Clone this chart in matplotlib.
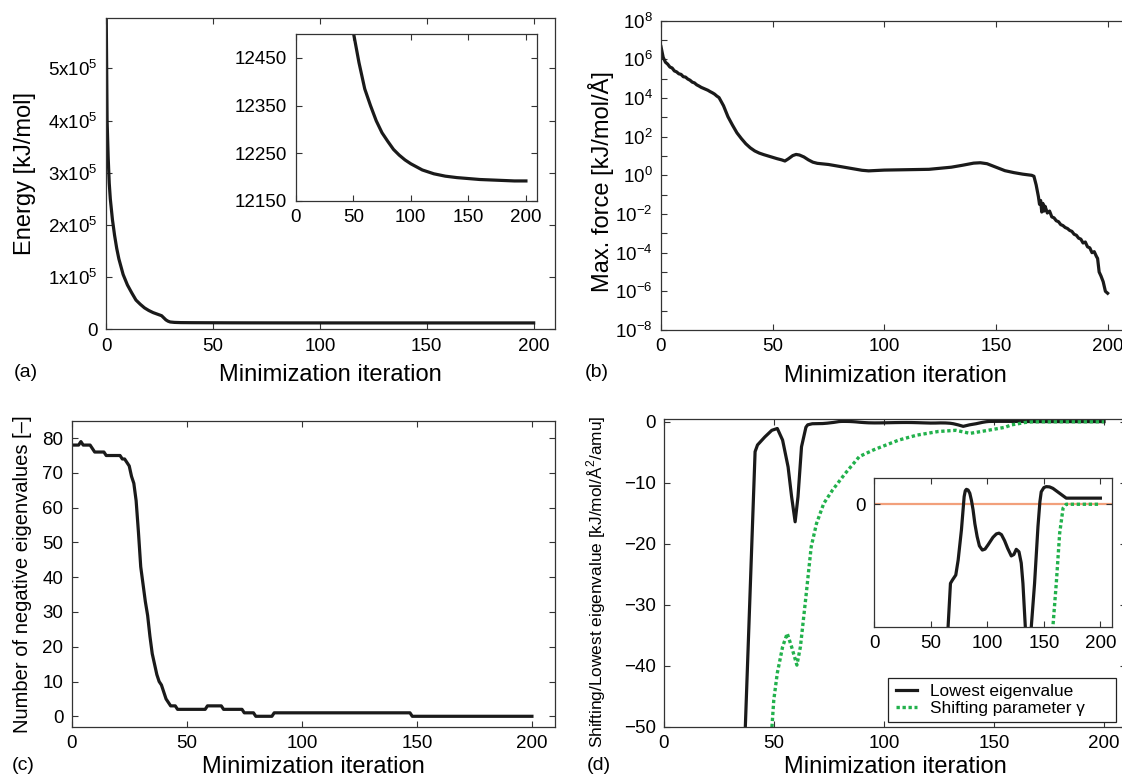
import numpy as np
import matplotlib
matplotlib.use('Agg')
import matplotlib.pyplot as plt
from matplotlib.patches import Rectangle
from matplotlib.ticker import FuncFormatter, LogLocator, NullFormatter

plt.rcParams['font.family'] = ['Liberation Sans', 'DejaVu Sans']
plt.rcParams['mathtext.fontset'] = 'custom'
plt.rcParams['mathtext.rm'] = 'Liberation Sans'
plt.rcParams['axes.unicode_minus'] = True

# (a) energy per iteration
energy_iter = [0, 0.5, 1, 1.5, 2, 3, 4, 5, 6, 7, 8, 10, 12, 14, 16, 18, 20, 22, 24, 25,
               26, 27, 28, 29, 30, 32, 35, 40, 45, 50, 55, 60, 65, 70, 75, 80, 85, 90,
               95, 100, 110, 120, 130, 140, 150, 160, 170, 180, 190, 200]
energy = [6.5e5, 4.0e5, 3.3e5, 2.8e5, 2.5e5, 2.1e5, 1.8e5, 1.55e5, 1.35e5, 1.2e5, 1.05e5,
          8.5e4, 7.0e4, 5.6e4, 4.8e4, 4.1e4, 3.6e4, 3.2e4, 2.9e4, 2.75e4,
          2.6e4, 2.2e4, 1.8e4, 1.55e4, 1.4e4, 1.32e4, 1.28e4, 1.265e4, 1.257e4,
          12505, 12440, 12385, 12350, 12318, 12293, 12275, 12258, 12246, 12236, 12228,
          12215, 12207, 12202, 12199, 12197, 12195, 12194, 12193, 12192, 12192]

# (b) max force, log10 values
force_iter = [0, 1, 2, 3, 4, 5, 6, 7, 8, 9, 10, 11, 12, 13, 14, 15, 16, 17, 18, 19, 20,
              21, 22, 23, 24, 25, 26, 28, 30, 32, 34, 36, 38, 40, 42, 44, 46, 48, 50, 52,
              54, 55.5, 57, 59, 60.5, 62, 64, 66, 68, 70, 75, 80, 85, 90, 93, 100, 110,
              120, 130, 135, 140, 143, 146, 150, 154, 158, 162, 166, 167, 168, 169, 169.5,
              170, 170.5, 171, 171.5, 172, 173, 174, 175, 176, 177, 178, 179, 180, 181,
              182, 183, 184, 185, 186, 187, 188, 189, 190, 191, 192, 193, 194, 195, 195.5,
              196.2, 197, 198, 199, 200]
force_log = [6.66, 6.1, 5.85, 5.75, 5.6, 5.55, 5.4, 5.35, 5.25, 5.22, 5.1, 5.08, 4.98,
             4.92, 4.82, 4.78, 4.68, 4.62, 4.55, 4.5, 4.45, 4.4, 4.33, 4.27, 4.2, 4.1,
             4.02, 3.6, 3.03, 2.6, 2.2, 1.9, 1.63, 1.42, 1.26, 1.15, 1.07, 1.0, 0.93,
             0.86, 0.8, 0.74, 0.85, 1.02, 1.08, 1.05, 0.95, 0.8, 0.68, 0.62, 0.56, 0.46,
             0.36, 0.26, 0.23, 0.27, 0.29, 0.31, 0.42, 0.52, 0.63, 0.65, 0.6, 0.42, 0.24,
             0.14, 0.06, 0.0, -0.05, -0.5, -1.1, -1.5, -1.3, -1.9, -1.45, -1.85, -1.6,
             -1.95, -1.85, -2.15, -2.2, -2.35, -2.4, -2.55, -2.6, -2.7, -2.75, -2.85,
             -2.9, -3.05, -3.1, -3.25, -3.3, -3.5, -3.45, -3.7, -3.75, -4.0, -3.95, -4.2,
             -4.3, -5.0, -5.2, -5.5, -6.0, -6.1]

# (c) number of negative eigenvalues
neg_iter = [0, 2, 3, 4, 5, 8, 9, 10, 14, 15, 21, 22, 23, 24, 25, 26, 27, 28, 29, 30, 31,
            32, 33, 34, 35, 36, 37, 38, 39, 40, 41, 42, 43, 45, 46, 58, 59, 65, 66, 74,
            75, 79, 80, 87, 88, 147, 148, 200]
neg_count = [78, 78, 78, 79, 78, 78, 77, 76, 76, 75, 75, 74, 74, 73, 72, 69, 67, 62, 53,
             43, 38, 33, 29, 23, 18, 15, 12, 10, 9, 7, 5, 4, 3, 3, 2, 2, 3, 3, 2, 2, 1,
             1, 0, 0, 1, 1, 0, 0]

# (d) lowest eigenvalue and shifting parameter
eig_iter = [35, 41.4, 42.5, 45.8, 49, 51.5, 53.9, 56.4, 58, 59.6, 60.9, 62.5, 64.5, 65.3,
            67.4, 69.2, 72.1, 74.2, 77.1, 79.5, 80.5, 81.5, 83, 84.5, 86, 87.4, 89, 91,
            93, 95.6, 98, 100.6, 105, 108, 110.3, 112.5, 115.3, 118, 121.2, 123.5, 125.6,
            128, 130, 131.5, 133.6, 136, 138.9, 141.8, 144.8, 146.5, 147.7, 150, 152.1,
            155, 158, 163.9, 169.8, 200]
eig_val = [-70, -4.9, -3.8, -2.5, -1.4, -1.1, -3.0, -7.4, -12.3, -16.4, -12.3, -4.1,
           -0.9, -0.5, -0.323, -0.309, -0.289, -0.228, -0.105, 0.031, 0.055, 0.061, 0.058,
           0.045, 0.015, -0.023, -0.08, -0.132, -0.17, -0.187, -0.183, -0.166, -0.135,
           -0.121, -0.118, -0.124, -0.149, -0.18, -0.211, -0.205, -0.184, -0.194, -0.24,
           -0.323, -0.5, -0.75, -0.5, -0.323, -0.091, 0.01, 0.051, 0.068, 0.072, 0.071,
           0.065, 0.045, 0.025, 0.025]
gam_iter = [48.5, 49.9, 51.5, 53.9, 56, 58, 60.4, 62, 64.5, 66.9, 69.3, 72.6, 76.6, 82.3,
            88.8, 95.3, 106.7, 114.8, 124.5, 132.6, 139.1, 147.3, 155, 158, 161, 164, 167,
            169.8, 200]
gam_val = [-53, -45.6, -41.2, -36.9, -34.7, -36.9, -39.9, -36.9, -28.7, -20.5, -16.7,
           -13.4, -11.2, -8.5, -5.7, -4.6, -3.0, -2.2, -1.6, -1.4, -1.9, -1.4, -0.9, -0.5,
           -0.323, -0.118, -0.016, 0.0, 0.0]

LC = '#1a1a1a'
GREEN = '#22b14c'
LW = 2.3
TICKFS = 13.5


def style(ax):
    ax.tick_params(which='both', direction='in', top=True, right=True, length=4,
                   width=0.8, labelsize=TICKFS, pad=6, color='#333333')
    for s in ax.spines.values():
        s.set_linewidth(0.9)
        s.set_color('#333333')


fig = plt.figure(figsize=(11.22, 7.79), dpi=100)

# (a)
ax = fig.add_axes([0.0945, 0.5773, 0.4002, 0.3992])
ax.plot(energy_iter, energy, color=LC, lw=LW)
ax.set_xlim(0, 210)
ax.set_ylim(0, 5.96e5)
ax.set_xticks([0, 50, 100, 150, 200])
ax.set_yticks([0, 1e5, 2e5, 3e5, 4e5, 5e5])
ax.yaxis.set_major_formatter(FuncFormatter(
    lambda v, p: '0' if v == 0 else r'$\mathregular{%dx10^{5}}$' % round(v / 1e5)))
style(ax)
ax.set_ylabel('Energy [kJ/mol]', fontsize=17)
ax.yaxis.set_label_coords(-0.157, 0.5)
ax.set_xlabel('Minimization iteration', fontsize=17)
ax.xaxis.set_label_coords(0.5, -0.112)

axi = fig.add_axes([0.2635, 0.7420, 0.2155, 0.2144])
axi.plot(energy_iter, energy, color=LC, lw=LW)
axi.set_xlim(0, 210)
axi.set_ylim(12150, 12500)
axi.set_xticks([0, 50, 100, 150, 200])
axi.set_yticks([12150, 12250, 12350, 12450])
style(axi)

# (b)
ax = fig.add_axes([0.5891, 0.5764, 0.4180, 0.3971])
ax.plot(force_iter, 10.0 ** np.array(force_log), color=LC, lw=LW)
ax.set_yscale('log')
ax.set_xlim(0, 210)
ax.set_ylim(1e-8, 1e8)
ax.set_xticks([0, 50, 100, 150, 200])
ax.yaxis.set_major_locator(LogLocator(base=100, numticks=30))
ax.yaxis.set_minor_locator(LogLocator(base=100, subs=(10,), numticks=30))
ax.yaxis.set_minor_formatter(NullFormatter())
ax.yaxis.set_major_formatter(FuncFormatter(
    lambda v, p: r'$\mathregular{10^{%d}}$' % round(np.log10(v))))
style(ax)
ax.set_ylabel('Max. force [kJ/mol/Å]', fontsize=17)
ax.yaxis.set_label_coords(-0.101, 0.48)
ax.set_xlabel('Minimization iteration', fontsize=17)
ax.xaxis.set_label_coords(0.5, -0.112)

# (c)
ax = fig.add_axes([0.0639, 0.0671, 0.4307, 0.3928])
ax.plot(neg_iter, neg_count, color=LC, lw=LW)
ax.set_xlim(0, 210)
ax.set_ylim(-3, 85)
ax.set_xticks([0, 50, 100, 150, 200])
ax.set_yticks(range(0, 81, 10))
style(ax)
ax.set_ylabel('Number of negative eigenvalues [–]', fontsize=14.5)
ax.yaxis.set_label_coords(-0.082, 0.5)
ax.set_xlabel('Minimization iteration', fontsize=17)
ax.xaxis.set_label_coords(0.5, -0.097)

# (d)
ax = fig.add_axes([0.5918, 0.0671, 0.4118, 0.3946])
ax.plot(eig_iter, eig_val, color=LC, lw=LW, label='Lowest eigenvalue')
ax.plot(gam_iter, gam_val, color=GREEN, lw=2.4, dashes=(1, 0.8),
        label='Shifting parameter γ')
ax.set_xlim(0, 210)
ax.set_ylim(-50, 0.4)
ax.set_xticks([0, 50, 100, 150, 200])
ax.set_yticks([-50, -40, -30, -20, -10, 0])
style(ax)
ax.set_ylabel('Shifting/Lowest eigenvalue [kJ/mol/Å$^2$/amu]', fontsize=12.4)
ax.yaxis.set_label_coords(-0.121, 0.47)
ax.set_xlabel('Minimization iteration', fontsize=17)
ax.xaxis.set_label_coords(0.5, -0.096)
# legend box is wider than its entries, as in the original
ax.add_patch(Rectangle((0.485, 0.016), 0.494, 0.1415, transform=ax.transAxes,
                       facecolor='white', edgecolor='#222222', lw=0.9, zorder=4))
leg = ax.legend(loc='center left', bbox_to_anchor=(0.503, 0.086), fontsize=12.4,
                frameon=False, borderaxespad=0, borderpad=0, handlelength=1.2,
                handletextpad=0.75, labelspacing=0.12)
leg.set_zorder(5)

axi = fig.add_axes([0.7792, 0.1955, 0.2116, 0.1905])
axi.axhline(0, color='#f2a07b', lw=1.6, zorder=1)
axi.plot(eig_iter, eig_val, color=LC, lw=LW, zorder=2)
axi.plot(gam_iter, gam_val, color=GREEN, lw=2.4, dashes=(1, 0.8), zorder=3)
axi.set_xlim(0, 210)
axi.set_ylim(-0.5, 0.106)
axi.set_xticks([0, 50, 100, 150, 200])
axi.set_yticks([0])
style(axi)

fig.text(14 / 1122, 1 - 372 / 779, '(a)', fontsize=14, va='center')
fig.text(585 / 1122, 1 - 372 / 779, '(b)', fontsize=14, va='center')
fig.text(12 / 1122, 1 - 766 / 779, '(c)', fontsize=14, va='center')
fig.text(587 / 1122, 1 - 766 / 779, '(d)', fontsize=14, va='center')

fig.savefig('out.png', dpi=100)
